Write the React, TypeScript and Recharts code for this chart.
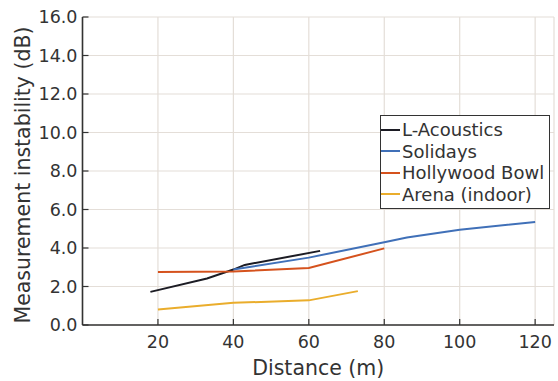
import React from 'react';
import { LineChart, Line, XAxis, YAxis, CartesianGrid } from 'recharts';

// distances (m) and instability (dB) per venue
const laDist = [18, 33, 40, 43, 63];
const laVal = [1.72, 2.42, 2.88, 3.12, 3.85];

const solDist = [40, 60, 80, 86, 100, 120];
const solVal = [2.88, 3.5, 4.3, 4.55, 4.95, 5.35];

const hbDist = [20, 40, 60, 80];
const hbVal = [2.75, 2.78, 2.96, 3.98];

const arDist = [20, 40, 60, 73];
const arVal = [0.8, 1.15, 1.28, 1.76];

const xTicks = [20, 40, 60, 80, 100, 120];
const yTicks = [0, 2, 4, 6, 8, 10, 12, 14, 16];

const seriesNames = ['L-Acoustics', 'Solidays', 'Hollywood Bowl', 'Arena (indoor)'];
const seriesColors = ['#1c1c24', '#4070b8', '#d5521d', '#eaad2c'];

const toPoints = (xs: number[], ys: number[]) => xs.map((d, i) => ({ d, v: ys[i] }));

const series = [
  toPoints(laDist, laVal),
  toPoints(solDist, solVal),
  toPoints(hbDist, hbVal),
  toPoints(arDist, arVal),
];

const FONT = '"DejaVu Sans", Verdana, sans-serif';
const TEXT = '#333';

const XTick = (props: any) => {
  const { x, y, payload } = props;
  return (
    <g>
      <line x1={x} y1={y} x2={x} y2={y - 6} stroke="#333" strokeWidth={1.2} />
      <text x={x} y={y + 23} textAnchor="middle" fill={TEXT} fontSize={17.5} fontFamily={FONT}>
        {payload.value}
      </text>
    </g>
  );
};

const YTick = (props: any) => {
  const { x, y, payload } = props;
  return (
    <g>
      <line x1={x} y1={y} x2={x + 6} y2={y} stroke="#333" strokeWidth={1.2} />
      <text x={x - 5} y={y} dy="0.36em" textAnchor="end" fill={TEXT} fontSize={17.5} fontFamily={FONT}>
        {Number(payload.value).toFixed(1)}
      </text>
    </g>
  );
};

const YLabel = (props: any) => {
  const vb = props.viewBox || {};
  const cy = (vb.y ?? 17) + (vb.height ?? 308) / 2 + 4;
  const cx = 23;
  return (
    <text
      x={cx}
      y={cy}
      transform={`rotate(-90 ${cx} ${cy})`}
      textAnchor="middle"
      dominantBaseline="central"
      fill={TEXT}
      fontSize={20.5}
      fontFamily={FONT}
    >
      Measurement instability (dB)
    </text>
  );
};

const LegendBox = () => (
  <div
    style={{
      position: 'absolute',
      left: 380,
      top: 115,
      border: '1.2px solid #333',
      background: '#fff',
      padding: '3px 4px 3px 0px',
      fontFamily: FONT,
      fontSize: 18,
      color: TEXT,
      lineHeight: '21.5px',
      width: 170,
      boxSizing: 'border-box',
    }}
  >
    {seriesNames.map((n, i) => (
      <div key={n} style={{ display: 'flex', alignItems: 'center', whiteSpace: 'nowrap' }}>
        <span style={{ display: 'inline-block', width: 19, height: 2, background: seriesColors[i], marginRight: 2 }} />
        {n}
      </div>
    ))}
  </div>
);

export default function App() {
  return (
    <div style={{ position: 'absolute', left: 0, top: 0, width: 558, height: 381, background: '#fff' }}>
      <LineChart width={558} height={381} margin={{ top: 17, right: 4, left: 0, bottom: 0 }}>
        <CartesianGrid stroke="#e4ded8" strokeWidth={1.2} />
        <XAxis
          type="number"
          dataKey="d"
          domain={[0, 125]}
          ticks={xTicks}
          allowDataOverflow
          height={56}
          tickSize={0}
          tickMargin={0}
          tick={<XTick />}
          axisLine={{ stroke: '#333', strokeWidth: 1.6 }}
          tickLine={false}
          label={{
            value: 'Distance (m)',
            position: 'insideBottom',
            offset: 6,
            fill: TEXT,
            fontSize: 20.5,
            fontFamily: FONT,
          }}
        />
        <YAxis
          type="number"
          dataKey="v"
          domain={[0, 16]}
          ticks={yTicks}
          width={82.5}
          tickSize={0}
          tickMargin={0}
          tick={<YTick />}
          axisLine={{ stroke: '#333', strokeWidth: 1.6 }}
          tickLine={false}
          label={<YLabel />}
        />
        {series.map((pts, i) => (
          <Line
            key={seriesNames[i]}
            data={pts}
            dataKey="v"
            name={seriesNames[i]}
            type="linear"
            stroke={seriesColors[i]}
            strokeWidth={2}
            dot={false}
            isAnimationActive={false}
          />
        ))}
      </LineChart>
      <LegendBox />
    </div>
  );
}
